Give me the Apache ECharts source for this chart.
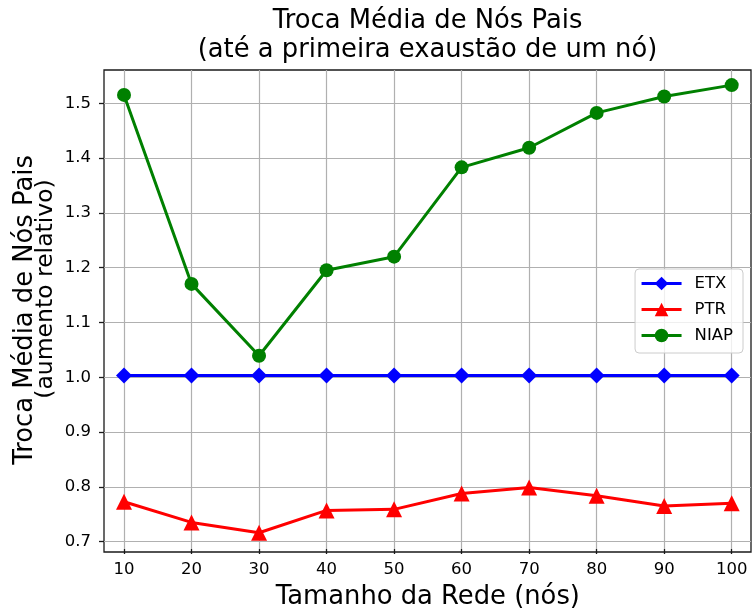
<!DOCTYPE html>
<html>
<head>
<meta charset="utf-8">
<script src="https://cdn.jsdelivr.net/npm/echarts@6/dist/echarts.min.js"></script>
<style>
  html, body { margin: 0; padding: 0; background: #fff; }
  #chart { width: 752px; height: 615px; }
</style>
</head>
<body>
<div id="chart"></div>
<script>
// Network sizes (number of nodes)
const networkSizes = [10, 20, 30, 40, 50, 60, 70, 80, 90, 100];
// Average parent switches, relative to ETX
const etx  = [1.0, 1.0, 1.0, 1.0, 1.0, 1.0, 1.0, 1.0, 1.0, 1.0];
const ptr  = [0.768, 0.730, 0.711, 0.752, 0.754, 0.783, 0.794, 0.779, 0.760, 0.765];
const niap = [1.515, 1.168, 1.036, 1.193, 1.218, 1.382, 1.418, 1.482, 1.512, 1.533];
const seriesNames = ['ETX', 'PTR', 'NIAP'];
const seriesColors = ['#0000ff', '#ff0000', '#008000'];
const seriesSymbols = ['diamond', 'triangle', 'circle'];
const seriesValues = [etx, ptr, niap];

const FONT = 'DejaVu Sans';
const chart = echarts.init(document.getElementById('chart'), null, { renderer: 'canvas' });

// Frame in pixels; x data 10..100 and y data 0.7..1.5 sit inside with padding
const frame = { left: 104, top: 70, right: 751, bottom: 552 };
const xPx = { v0: 10, p0: 124, v1: 100, p1: 731.7 };
const yPx = { v0: 0.7, p0: 541.7, v1: 1.5, p1: 103.3 };
const yPerPx = (yPx.v1 - yPx.v0) / (yPx.p0 - yPx.p1);
const yMin = yPx.v0 - (frame.bottom - yPx.p0) * yPerPx;
const yMax = yPx.v1 + (yPx.p1 - frame.top) * yPerPx;

const hiddenAxis = {
  show: false, axisLine: { show: false }, axisTick: { show: false },
  axisLabel: { show: false }, splitLine: { show: false }
};
const gridLine = { show: true, lineStyle: { color: '#b0b0b0', width: 1.2 } };
const tickLabel = { color: '#000', fontFamily: FONT, fontSize: 16.5 };
const tickStyle = { show: true, inside: false, length: 5, lineStyle: { color: '#1a1a1a', width: 1.3 } };

const option = {
  animation: false,
  backgroundColor: '#fff',
  title: {
    text: 'Troca Média de Nós Pais\n(até a primeira exaustão de um nó)',
    left: (frame.left + frame.right) / 2,
    top: 7,
    padding: 0,
    textAlign: 'center',
    textStyle: { fontFamily: FONT, fontSize: 25.8, fontWeight: 'normal', color: '#000', lineHeight: 29 }
  },
  grid: [
    // outer frame
    { left: frame.left, top: frame.top, width: frame.right - frame.left, height: frame.bottom - frame.top,
      show: true, borderColor: '#1a1a1a', borderWidth: 1.3, backgroundColor: 'transparent' },
    // x scale: 10..100
    { left: xPx.p0, top: frame.top, width: xPx.p1 - xPx.p0, height: frame.bottom - frame.top },
    // y scale: 0.7..1.5
    { left: frame.left, top: yPx.p1, width: frame.right - frame.left, height: yPx.p0 - yPx.p1 }
  ],
  xAxis: [
    Object.assign({ type: 'value', gridIndex: 0, min: 0, max: 1 }, hiddenAxis),
    {
      type: 'value', gridIndex: 1, min: 10, max: 100, interval: 10,
      name: 'Tamanho da Rede (nós)', nameLocation: 'middle', nameGap: 35,
      nameTextStyle: { fontFamily: FONT, fontSize: 25.8, color: '#000' },
      axisLine: { show: false },
      axisTick: tickStyle,
      axisLabel: Object.assign({ margin: 12 }, tickLabel),
      splitLine: gridLine
    },
    Object.assign({ type: 'value', gridIndex: 2, min: 0, max: 1 }, hiddenAxis)
  ],
  yAxis: [
    Object.assign({ type: 'value', gridIndex: 0, min: 0, max: 1 }, hiddenAxis),
    Object.assign({ type: 'value', gridIndex: 1, min: yMin, max: yMax }, hiddenAxis),
    {
      type: 'value', gridIndex: 2, min: 0.7, max: 1.5, interval: 0.1,
      axisLine: { show: false },
      axisTick: tickStyle,
      axisLabel: Object.assign({ margin: 13, formatter: v => v.toFixed(1) }, tickLabel),
      splitLine: gridLine
    }
  ],
  legend: {
    orient: 'vertical',
    right: 9,
    top: 269,
    padding: [6, 10, 9, 5],
    itemWidth: 40,
    itemHeight: 17,
    itemGap: 9,
    backgroundColor: 'rgba(255,255,255,0.8)',
    borderColor: '#cccccc',
    borderWidth: 1,
    borderRadius: 4,
    lineStyle: { width: 3 },
    textStyle: { fontFamily: FONT, fontSize: 16.5, color: '#000', padding: [0, 0, 0, 8] },
    data: seriesNames
  },
  graphic: [
    {
      type: 'text', x: 25, y: 310, rotation: Math.PI / 2,
      style: { text: 'Troca Média de Nós Pais', fontFamily: FONT, fontSize: 25.8, fill: '#000',
               textAlign: 'center', textVerticalAlign: 'middle' }
    },
    {
      type: 'text', x: 46, y: 289, rotation: Math.PI / 2,
      style: { text: '(aumento relativo)', fontFamily: FONT, fontSize: 23.5, fill: '#000',
               textAlign: 'center', textVerticalAlign: 'middle' }
    }
  ],
  series: seriesNames.map((name, i) => ({
    name,
    type: 'line',
    xAxisIndex: 1,
    yAxisIndex: 1,
    clip: false,
    data: networkSizes.map((x, j) => [x, seriesValues[i][j]]),
    symbol: seriesSymbols[i],
    symbolSize: seriesSymbols[i] === 'circle' ? 14 : 16,
    showAllSymbol: true,
    lineStyle: { color: seriesColors[i], width: 3 },
    itemStyle: { color: seriesColors[i], borderWidth: 0 },
    z: 3 + i
  }))
};

chart.setOption(option);
</script>
</body>
</html>
